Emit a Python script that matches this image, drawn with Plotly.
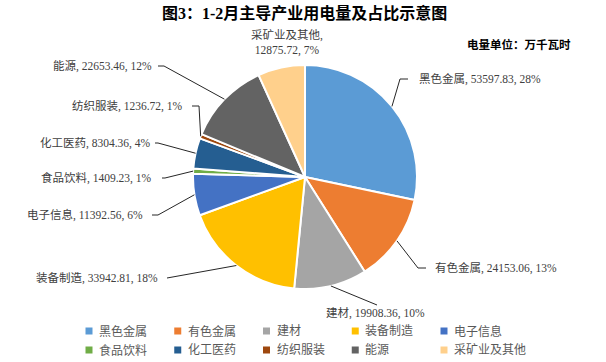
import math
import plotly.graph_objects as go

# ---------------- data ----------------
categories = ["黑色金属", "有色金属", "建材", "装备制造", "电子信息",
              "食品饮料", "化工医药", "纺织服装", "能源", "采矿业及其他"]
values = [53597.83, 24153.06, 19908.36, 33942.81, 11392.56,
          1409.23, 8304.36, 1236.72, 22653.46, 12875.72]
pct_labels = [28, 13, 10, 18, 6, 1, 4, 1, 12, 7]
colors = ["#5B9BD5", "#ED7D31", "#A5A5A5", "#FFC000", "#4472C4",
          "#70AD47", "#255E91", "#9E480E", "#636363", "#FFD08C"]
title_text = "图3：1-2月主导产业用电量及占比示意图"
unit_text = "电量单位：万千瓦时"

# ---------------- layout geometry (pixels) ----------------
W, H = 606, 362
CX, CY, R = 305, 177, 112

def px(x):
    return x / W

def py(y):
    return 1 - y / H

# label placement: (text x, text y, xanchor, elbow x, elbow y, line end x)
label_pos = [
    (417, 79, "left", 400, 79, 408),
    (433, 268, "left", 418, 268, 426),
    (375, 313, "center", 377, 305, None),
    (160, 278, "right", 167, 278, None),
    (145, 215, "right", 158, 215, 152),
    (154, 178, "right", 165, 178, 162),
    (153, 143, "right", 158, 143, 155),
    (185, 106, "right", 199, 106, 192),
    (154, 66, "right", 164, 66, 158),
    (287, 43, "center", None, None, None),
]

# legend grid (pixels)
LEG_X0, LEG_DX, LEG_Y0, LEG_DY, LEG_COLS, LEG_SQ = 89, 88.75, 331, 19, 5, 7

total = sum(values)
font_fam = "Liberation Serif, 'Noto Sans CJK SC', serif"

fig = go.Figure()
fig.add_trace(go.Pie(
    labels=categories, values=values, sort=False, direction="clockwise",
    rotation=0, textinfo="none", hoverinfo="label+value+percent",
    marker=dict(colors=colors, line=dict(color="white", width=2)),
    domain=dict(x=[px(CX - R), px(CX + R)], y=[py(CY + R), py(CY - R)]),
    showlegend=False,
))

annotations = []
shapes = []
cum = 0.0
for i, (c, v, p, lp, col) in enumerate(zip(categories, values, pct_labels, label_pos, colors)):
    frac = v / total
    mid = (cum + frac / 2) * 2 * math.pi
    cum += frac
    ex = CX + R * math.sin(mid)
    ey = CY - R * math.cos(mid)
    tx, ty, xa, elx, ely, lend = lp
    if c == "采矿业及其他":
        txt = f"{c},<br>{v:.2f}, {p}%"
    else:
        txt = f"{c}, {v:.2f}, {p}%"
    annotations.append(dict(x=px(tx), y=py(ty), xref="paper", yref="paper",
                            text=txt, showarrow=False, xanchor=xa, yanchor="middle",
                            font=dict(family=font_fam, size=11.5, color="#404040")))
    if elx is not None:
        path = f"M{px(ex)},{py(ey)} L{px(elx)},{py(ely)}"
        if lend is not None:
            path += f" L{px(lend)},{py(ely)}"
        shapes.append(dict(type="path", path=path, xref="paper", yref="paper",
                           line=dict(color="#262626", width=1)))
    # legend entry
    lx = LEG_X0 + (i % LEG_COLS) * LEG_DX
    ly = LEG_Y0 + (i // LEG_COLS) * LEG_DY
    h = LEG_SQ / 2
    shapes.append(dict(type="rect", xref="paper", yref="paper",
                       x0=px(lx - h), x1=px(lx + h), y0=py(ly + h), y1=py(ly - h),
                       fillcolor=col, line=dict(width=0)))
    annotations.append(dict(x=px(lx + 8), y=py(ly), xref="paper", yref="paper",
                            text=c, showarrow=False, xanchor="left", yanchor="middle",
                            font=dict(family=font_fam, size=12, color="#595959")))

annotations.append(dict(x=px(304), y=py(13), xref="paper", yref="paper",
                        text=f"<b>{title_text}</b>", showarrow=False,
                        xanchor="center", yanchor="middle",
                        font=dict(family=font_fam, size=16, color="#000000")))
annotations.append(dict(x=px(573), y=py(44), xref="paper", yref="paper",
                        text=f"<b>{unit_text}</b>", showarrow=False,
                        xanchor="right", yanchor="middle",
                        font=dict(family=font_fam, size=11.5, color="#000000")))

fig.update_layout(
    width=W, height=H,
    margin=dict(l=0, r=0, t=0, b=0),
    paper_bgcolor="white", plot_bgcolor="white",
    annotations=annotations, shapes=shapes,
    showlegend=False,
)

fig.write_html("out.html", config={"displayModeBar": False},
               post_script="document.body.style.margin='0px';document.body.style.overflow='hidden';")
